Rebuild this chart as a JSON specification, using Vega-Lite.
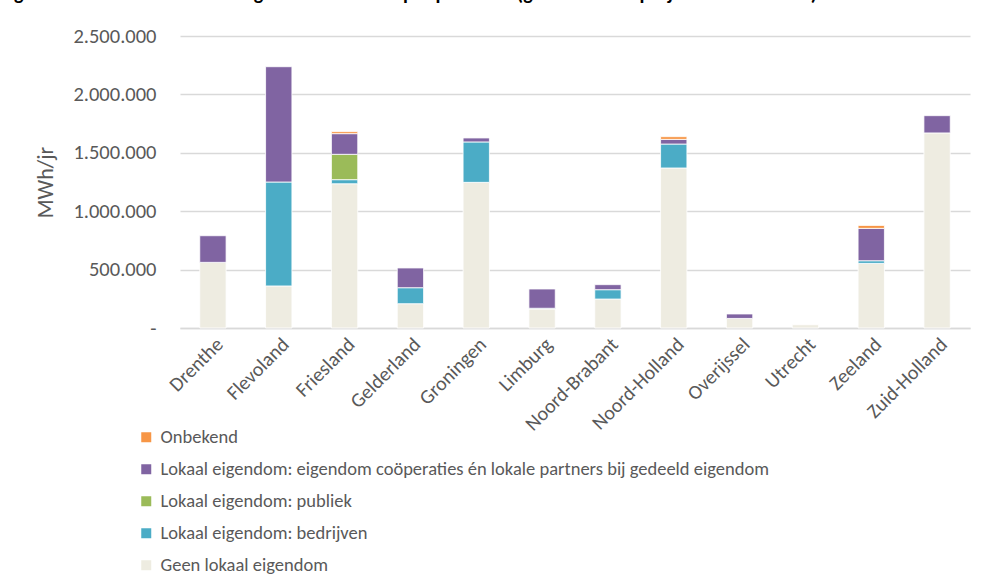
{
  "$schema": "https://vega.github.io/schema/vega-lite/v6.json",
  "width": 790,
  "height": 292,
  "autosize": {"type": "none"},
  "padding": {"left": 180, "top": 36, "right": 17, "bottom": 247},
  "background": "white",
  "title": {
    "text": "Figuur 4.4 – Overzicht lokaal eigendom absoluut per provincie (gerealiseerde projecten sinds 2015).",
    "anchor": "start",
    "frame": "group",
    "fontSize": 20,
    "font": "Carlito, Lato",
    "fontWeight": "bold",
    "color": "#000000",
    "baseline": "alphabetic",
    "dx": -180,
    "dy": -6,
    "offset": 0
  },
  "datasets": {
    "categorieen": [
      {"categorie": "Geen lokaal eigendom", "volgorde": 1},
      {"categorie": "Lokaal eigendom: bedrijven", "volgorde": 2},
      {"categorie": "Lokaal eigendom: publiek", "volgorde": 3},
      {"categorie": "Lokaal eigendom: eigendom coöperaties én lokale partners bij gedeeld eigendom", "volgorde": 4},
      {"categorie": "Onbekend", "volgorde": 5}
    ]
  },
  "data": {
    "values": [
      {"provincie": "Drenthe", "categorie": "Geen lokaal eigendom", "mwh": 562000},
      {"provincie": "Drenthe", "categorie": "Lokaal eigendom: eigendom coöperaties én lokale partners bij gedeeld eigendom", "mwh": 228000},
      {"provincie": "Flevoland", "categorie": "Geen lokaal eigendom", "mwh": 360000},
      {"provincie": "Flevoland", "categorie": "Lokaal eigendom: bedrijven", "mwh": 890000},
      {"provincie": "Flevoland", "categorie": "Lokaal eigendom: eigendom coöperaties én lokale partners bij gedeeld eigendom", "mwh": 987000},
      {"provincie": "Friesland", "categorie": "Geen lokaal eigendom", "mwh": 1235000},
      {"provincie": "Friesland", "categorie": "Lokaal eigendom: bedrijven", "mwh": 35000},
      {"provincie": "Friesland", "categorie": "Lokaal eigendom: publiek", "mwh": 217000},
      {"provincie": "Friesland", "categorie": "Lokaal eigendom: eigendom coöperaties én lokale partners bij gedeeld eigendom", "mwh": 177000},
      {"provincie": "Friesland", "categorie": "Onbekend", "mwh": 17000},
      {"provincie": "Gelderland", "categorie": "Geen lokaal eigendom", "mwh": 208000},
      {"provincie": "Gelderland", "categorie": "Lokaal eigendom: bedrijven", "mwh": 137000},
      {"provincie": "Gelderland", "categorie": "Lokaal eigendom: eigendom coöperaties én lokale partners bij gedeeld eigendom", "mwh": 169000},
      {"provincie": "Groningen", "categorie": "Geen lokaal eigendom", "mwh": 1247000},
      {"provincie": "Groningen", "categorie": "Lokaal eigendom: bedrijven", "mwh": 346000},
      {"provincie": "Groningen", "categorie": "Lokaal eigendom: eigendom coöperaties én lokale partners bij gedeeld eigendom", "mwh": 34000},
      {"provincie": "Limburg", "categorie": "Geen lokaal eigendom", "mwh": 163000},
      {"provincie": "Limburg", "categorie": "Lokaal eigendom: bedrijven", "mwh": 6000},
      {"provincie": "Limburg", "categorie": "Lokaal eigendom: eigendom coöperaties én lokale partners bij gedeeld eigendom", "mwh": 165000},
      {"provincie": "Noord-Brabant", "categorie": "Geen lokaal eigendom", "mwh": 248000},
      {"provincie": "Noord-Brabant", "categorie": "Lokaal eigendom: bedrijven", "mwh": 80000},
      {"provincie": "Noord-Brabant", "categorie": "Lokaal eigendom: eigendom coöperaties én lokale partners bij gedeeld eigendom", "mwh": 43000},
      {"provincie": "Noord-Holland", "categorie": "Geen lokaal eigendom", "mwh": 1370000},
      {"provincie": "Noord-Holland", "categorie": "Lokaal eigendom: bedrijven", "mwh": 205000},
      {"provincie": "Noord-Holland", "categorie": "Lokaal eigendom: eigendom coöperaties én lokale partners bij gedeeld eigendom", "mwh": 40000},
      {"provincie": "Noord-Holland", "categorie": "Onbekend", "mwh": 23000},
      {"provincie": "Overijssel", "categorie": "Geen lokaal eigendom", "mwh": 82000},
      {"provincie": "Overijssel", "categorie": "Lokaal eigendom: eigendom coöperaties én lokale partners bij gedeeld eigendom", "mwh": 38000},
      {"provincie": "Utrecht", "categorie": "Geen lokaal eigendom", "mwh": 28000},
      {"provincie": "Zeeland", "categorie": "Geen lokaal eigendom", "mwh": 553000},
      {"provincie": "Zeeland", "categorie": "Lokaal eigendom: bedrijven", "mwh": 23000},
      {"provincie": "Zeeland", "categorie": "Lokaal eigendom: eigendom coöperaties én lokale partners bij gedeeld eigendom", "mwh": 277000},
      {"provincie": "Zeeland", "categorie": "Onbekend", "mwh": 25000},
      {"provincie": "Zuid-Holland", "categorie": "Geen lokaal eigendom", "mwh": 1670000},
      {"provincie": "Zuid-Holland", "categorie": "Lokaal eigendom: eigendom coöperaties én lokale partners bij gedeeld eigendom", "mwh": 148000}
    ]
  },
  "transform": [
    {"lookup": "categorie", "from": {"data": {"name": "categorieen"}, "key": "categorie", "fields": ["volgorde"]}}
  ],
  "mark": {"type": "bar", "stroke": "white", "strokeWidth": 0.8},
  "encoding": {
    "x": {
      "field": "provincie",
      "type": "nominal",
      "sort": null,
      "scale": {"paddingInner": 0.6, "paddingOuter": 0.3},
      "axis": {
        "title": null,
        "labelAngle": -45,
        "labelFontSize": 20,
        "labelFont": "Carlito, Lato",
        "labelColor": "#595959",
        "labelPadding": 6,
        "ticks": false,
        "domainColor": "#D9D9D9",
        "domainWidth": 1.5
      }
    },
    "y": {
      "field": "mwh",
      "type": "quantitative",
      "stack": "zero",
      "scale": {"domain": [0, 2500000], "nice": false},
      "axis": {
        "title": "MWh/jr",
        "titleFontSize": 22,
        "titleFont": "Carlito, Lato",
        "titleFontWeight": "normal",
        "titleColor": "#595959",
        "titlePadding": 15,
        "values": [0, 500000, 1000000, 1500000, 2000000, 2500000],
        "labelExpr": "datum.value == 0 ? '-' : datum.label",
        "format": ",d",
        "labelFontSize": 20.5,
        "labelFont": "Carlito, Lato",
        "labelColor": "#595959",
        "labelPadding": 24,
        "ticks": false,
        "domain": false,
        "grid": true,
        "gridColor": "#D9D9D9",
        "gridWidth": 1.5
      }
    },
    "color": {
      "field": "categorie",
      "type": "nominal",
      "sort": [
        "Onbekend",
        "Lokaal eigendom: eigendom coöperaties én lokale partners bij gedeeld eigendom",
        "Lokaal eigendom: publiek",
        "Lokaal eigendom: bedrijven",
        "Geen lokaal eigendom"
      ],
      "scale": {
        "domain": [
          "Onbekend",
          "Lokaal eigendom: eigendom coöperaties én lokale partners bij gedeeld eigendom",
          "Lokaal eigendom: publiek",
          "Lokaal eigendom: bedrijven",
          "Geen lokaal eigendom"
        ],
        "range": ["#F79646", "#8064A2", "#9BBB59", "#4BACC6", "#EEECE1"]
      },
      "legend": {
        "title": null,
        "orient": "none",
        "legendX": -43,
        "legendY": 392,
        "values": [
          "Onbekend",
          "Lokaal eigendom: eigendom coöperaties én lokale partners bij gedeeld eigendom",
          "Lokaal eigendom: publiek",
          "Lokaal eigendom: bedrijven",
          "Geen lokaal eigendom"
        ],
        "symbolType": "square",
        "symbolSize": 100,
        "symbolStrokeWidth": 0,
        "labelFontSize": 18.5,
        "labelFont": "Carlito, Lato",
        "labelColor": "#595959",
        "labelLimit": 900,
        "labelOffset": 5,
        "rowPadding": 13
      }
    },
    "order": {"field": "volgorde", "type": "quantitative", "sort": "ascending"}
  },
  "config": {
    "locale": {"number": {"decimal": ",", "thousands": ".", "grouping": [3], "currency": ["€", ""]}},
    "view": {"stroke": null}
  }
}
